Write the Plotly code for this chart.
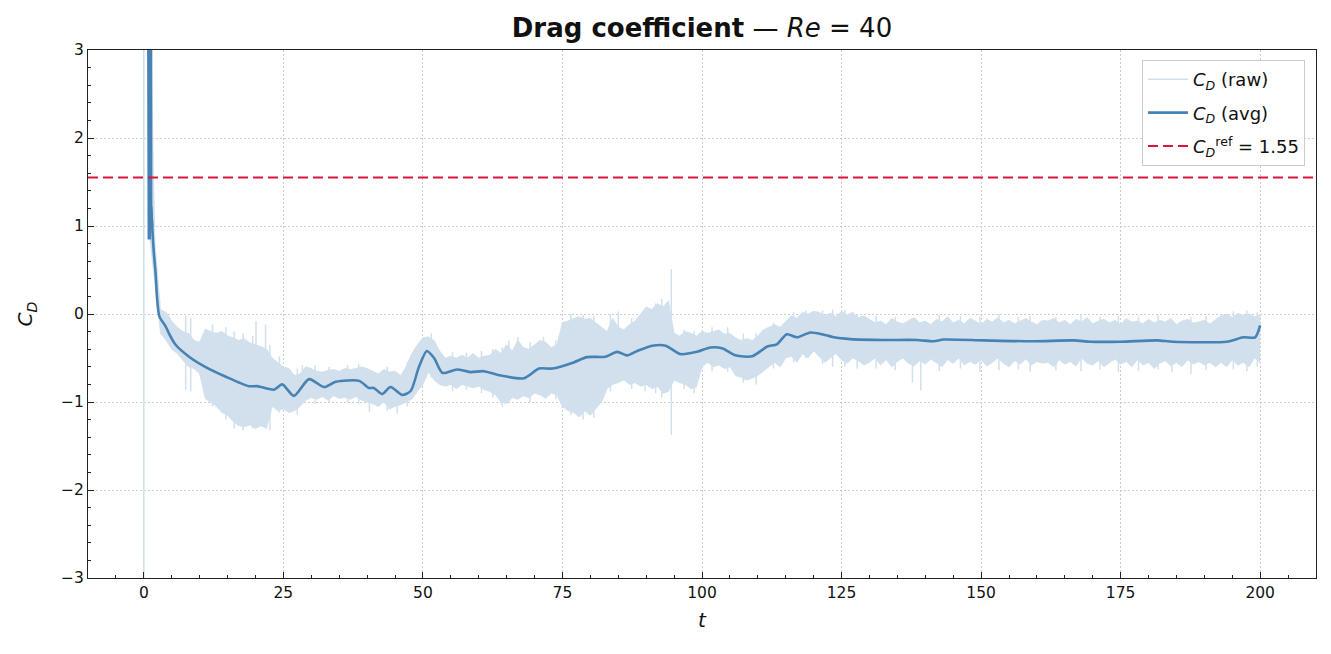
import plotly.graph_objects as go

# ---------------- data ----------------
band_t = list(range(1, 201))
raw_hi = [
    4.0, 0.8, 0.05, 0.02, -0.08, -0.15, -0.2, -0.22, -0.3, -0.32,
    -0.17, -0.2, -0.22, -0.2, -0.25, -0.27, -0.3, -0.28, -0.33, -0.35,
    -0.37, -0.4, -0.5, -0.55, -0.6, -0.62, -0.7, -0.68, -0.6, -0.62,
    -0.65, -0.66, -0.64, -0.63, -0.65, -0.62, -0.63, -0.62, -0.6, -0.62,
    -0.65, -0.68, -0.63, -0.66, -0.65, -0.7, -0.6, -0.45, -0.35, -0.27,
    -0.26, -0.3, -0.42, -0.5, -0.48, -0.5, -0.47, -0.5, -0.45, -0.5,
    -0.48, -0.47, -0.4, -0.45, -0.35, -0.42, -0.3, -0.38, -0.4, -0.35,
    -0.3, -0.32, -0.38, -0.35, -0.1, -0.08, -0.05, -0.03, -0.06, -0.05,
    -0.1, -0.15, -0.2, -0.05, -0.15, -0.18, -0.12, -0.08, 0.0, 0.08,
    0.05, 0.12, 0.08, 0.15, -0.22, -0.25, -0.2, -0.22, -0.25, -0.2,
    -0.22, -0.2, -0.18, -0.23, -0.22, -0.27, -0.3, -0.28, -0.3, -0.25,
    -0.18, -0.15, -0.12, -0.15, -0.08, -0.02, -0.05, 0.02, 0.0, 0.03,
    0.02, -0.02, 0.01, -0.03, 0.03, -0.01, 0.02, -0.04, -0.02,
    -0.06, -0.1, -0.08, -0.12, -0.05, -0.09, -0.11, -0.07, -0.04, -0.1,
    -0.08, -0.12, -0.06, -0.09, -0.03, -0.1, -0.07, -0.11, -0.05, -0.08,
    -0.12, -0.06, -0.09, -0.04, -0.1, -0.07, -0.11, -0.08, -0.05, -0.09,
    -0.12, -0.07,
    -0.08, -0.05, -0.1, -0.07, -0.12, -0.06, -0.09, -0.04, -0.11, -0.08,
    -0.06, -0.1, -0.07, -0.12, -0.05, -0.09, -0.08, -0.11, -0.06, -0.1,
    -0.07, -0.09, -0.05, -0.12, -0.08, -0.06, -0.1, -0.09, -0.07, -0.11,
    -0.06,
    -0.02, 0.0, -0.04, 0.01, -0.02, 0.0, -0.03, -0.01,
]
raw_lo = [
    0.9, 0.35, -0.22, -0.3, -0.4, -0.45, -0.52, -0.6, -0.62, -0.68,
    -0.96, -1.0, -1.05, -1.12, -1.15, -1.22, -1.27, -1.28, -1.26, -1.3,
    -1.27, -1.3, -1.05, -1.1, -1.08, -1.12, -1.1, -1.05, -0.98, -0.95,
    -0.97, -0.94, -0.98, -0.93, -0.96, -0.95, -0.97, -0.94, -0.98, -1.0,
    -1.02, -1.05, -1.0, -1.08, -1.05, -1.03, -1.0, -0.97, -0.88, -0.8,
    -0.66, -0.75, -0.8, -0.82, -0.8, -0.85, -0.8, -0.82, -0.84, -0.82,
    -0.86, -0.88, -0.92, -1.0, -1.02, -0.95, -0.97, -0.93, -0.95, -0.9,
    -0.92, -0.96, -0.9, -0.92, -1.05, -1.1, -1.12, -1.17, -1.1, -1.15,
    -1.08, -1.0, -0.85, -0.8, -0.78, -0.75, -0.8, -0.78, -0.82, -0.8,
    -0.85, -0.82, -0.9, -0.88, -0.75, -0.78, -0.8, -0.85, -0.83, -0.6,
    -0.55, -0.6, -0.58, -0.62, -0.6, -0.7, -0.72, -0.75, -0.73, -0.7,
    -0.65, -0.6, -0.55, -0.6, -0.5, -0.48, -0.55, -0.45, -0.5, -0.42,
    -0.48, -0.55, -0.5, -0.45, -0.52, -0.56, -0.5, -0.53, -0.58,
    -0.55, -0.5, -0.58, -0.52, -0.6, -0.54, -0.5, -0.56, -0.59, -0.53,
    -0.57, -0.51, -0.55, -0.6, -0.52, -0.56, -0.5, -0.58, -0.54, -0.57,
    -0.52, -0.59, -0.55, -0.5, -0.56, -0.6, -0.53, -0.57, -0.51, -0.58,
    -0.54, -0.56,
    -0.55, -0.6, -0.52, -0.57, -0.54, -0.59, -0.5, -0.56, -0.58, -0.53,
    -0.6, -0.55, -0.51, -0.57, -0.54, -0.6, -0.52, -0.58, -0.55, -0.62,
    -0.56, -0.53, -0.59, -0.55, -0.6, -0.52, -0.57, -0.54, -0.58, -0.55,
    -0.6,
    -0.55, -0.6, -0.52, -0.58, -0.55, -0.6, -0.5, -0.55,
]

# thin raw excursions (spikes / hairy edges): time, top, bottom
spike_t = [0.0, 7.5, 8.4, 20.1, 21.8, 28.4, 40.4, 45.4, 65.4, 67.0, 71.6, 85.0, 94.5, 137.7, 139.2, 184.2,
           12.3, 14.7, 16.2, 17.8, 19.5, 22.6, 24.3, 27.5, 30.7, 33.2, 36.5, 38.5, 43.6, 47.2,
           51.5, 55.3, 57.8, 60.5, 62.5, 64.2, 69.2, 73.8, 76.5, 78.7, 80.6, 83.6, 87.4, 89.8,
           91.7, 92.8, 96.8, 98.6, 101.8, 104.6, 107.4, 109.7, 112.8, 116.4, 118.6, 121.6, 123.4,
           125.6, 127.8, 131.2, 134.6, 142.5, 146.3, 149.8, 153.2, 156.7, 158.8, 163.4, 167.9,
           171.3, 174.6, 178.2, 181.7, 187.6, 190.3, 195.2, 197.6, 199.5]
spike_hi = [6.0, -0.02, -0.05, -0.08, -0.12, -0.58, -0.7, -0.75, -0.30, -0.26, -0.26, 0.03, 0.51, -0.3, -0.3, -0.3,
            -0.12, -0.15, -0.2, -0.22, -0.25, -0.35, -0.48, -0.62, -0.58, -0.6, -0.58, -0.57, -0.6, -0.55,
            -0.22, -0.43, -0.44, -0.42, -0.4, -0.38, -0.32, -0.3, 0.0, -0.01, -0.02, 0.0, -0.05, 0.05,
            0.12, 0.18, -0.18, -0.2, -0.15, -0.15, -0.22, -0.22, -0.1, 0.02, 0.04, 0.04, 0.05,
            0.05, 0.0, -0.02, -0.03, -0.01, -0.02, -0.03, 0.0, -0.03, -0.02, -0.03, 0.0,
            -0.03, -0.02, -0.03, -0.01, -0.03, -0.02, 0.03, 0.04, 0.02]
spike_lo = [-6.0, -0.86, -0.88, -0.9, -0.95, -1.0, -1.11, -1.13, -0.7, -0.7, -0.7, -0.5, -1.375, -0.78, -0.87, -0.66,
            -1.05, -1.2, -1.3, -1.32, -1.3, -1.32, -1.12, -1.15, -1.02, -1.0, -1.0, -1.02, -1.1, -1.05,
            -0.72, -0.88, -0.86, -0.9, -0.95, -1.05, -1.0, -0.97, -1.15, -1.2, -1.18, -0.88, -0.85, -0.88,
            -0.9, -0.95, -0.85, -0.9, -0.65, -0.66, -0.78, -0.8, -0.62, -0.55, -0.5, -0.57, -0.6,
            -0.6, -0.62, -0.62, -0.64, -0.65, -0.62, -0.66, -0.64, -0.63, -0.66, -0.64, -0.65,
            -0.63, -0.66, -0.65, -0.63, -0.68, -0.64, -0.63, -0.65, -0.6]

avg_t = [0.6, 0.9, 1.05, 1.25, 1.3, 1.5, 1.8, 2.1, 2.4, 2.8, 3.9, 4.5, 5.7, 8.1, 11.0, 14.6, 18.8,
         20.3, 23.3, 24.8, 26.9, 29.6, 32.3, 34.4, 38.6, 40.3, 41.2, 42.7, 44.2, 46.3, 47.8,
         49.3, 50.7, 52.0, 53.5, 56.1, 58.5, 60.9, 63.3, 68.1, 70.8, 73.2, 77.0, 79.4, 82.7,
         84.8, 86.6, 88.4, 91.1, 93.5, 96.1, 99.1, 101.5, 103.6, 106.0, 109.0, 111.7, 113.4,
         115.2, 117.0, 119.4, 121.5, 123.6, 126.6, 132.6, 138.5, 141.5, 143.3, 150.5, 159.4,
         166.6, 169.6, 175.0, 181.5, 184.4, 194.0, 197.0, 199.1, 200.0]
avg_v = [9.0, 0.86, 0.86, 9.0, 1.22, 0.99, 0.69, 0.47, 0.16, -0.03, -0.14, -0.22, -0.35, -0.485, -0.6, -0.71, -0.82,
         -0.82, -0.86, -0.80, -0.93, -0.74, -0.83, -0.77, -0.76, -0.84, -0.84, -0.91, -0.83, -0.92, -0.875,
         -0.60, -0.42, -0.50, -0.67, -0.63, -0.66, -0.65, -0.69, -0.73, -0.62, -0.62, -0.55, -0.49, -0.485,
         -0.43, -0.47, -0.42, -0.36, -0.36, -0.455, -0.43, -0.38, -0.39, -0.47, -0.48, -0.37, -0.345,
         -0.23, -0.265, -0.21, -0.23, -0.265, -0.285, -0.295, -0.295, -0.31, -0.29, -0.30, -0.31,
         -0.30, -0.315, -0.315, -0.30, -0.315, -0.315, -0.265, -0.265, -0.13]

cd_ref = 1.55
x_range = [-10, 210]
y_range = [-3, 3]
x_ticks = [0, 25, 50, 75, 100, 125, 150, 175, 200]
y_ticks = [-3, -2, -1, 0, 1, 2, 3]

assert len(raw_hi) == len(band_t) == len(raw_lo)
assert len(spike_t) == len(spike_hi) == len(spike_lo)
assert len(avg_t) == len(avg_v)

# ---------------- figure ----------------
RAW = "rgb(209,224,236)"
AVG = "#4682b4"
REF = "#dc143c"
CD = "<i>C</i><sub><i>D</i></sub>"
SPLIT = 5  # start-up transient drawn straight, the rest smoothed

fig = go.Figure()

fig.add_trace(go.Scatter(x=band_t, y=raw_lo, mode="lines", line=dict(width=0.8, color=RAW),
                         showlegend=False, legendgroup="raw", hoverinfo="skip"))
fig.add_trace(go.Scatter(x=band_t, y=raw_hi, mode="lines", line=dict(width=0.8, color=RAW),
                         fill="tonexty", fillcolor=RAW, showlegend=False, legendgroup="raw",
                         hoverinfo="skip"))

sx, sy = [], []
for t, h, l in zip(spike_t, spike_hi, spike_lo):
    sx += [t, t, None]
    sy += [h, l, None]
fig.add_trace(go.Scatter(x=sx, y=sy, mode="lines", line=dict(width=1.5, color=RAW),
                         name=CD + " (raw)", legendgroup="raw"))

fig.add_trace(go.Scatter(x=avg_t[:SPLIT + 1], y=avg_v[:SPLIT + 1], mode="lines",
                         line=dict(width=2.6, color=AVG), showlegend=False, legendgroup="avg"))
fig.add_trace(go.Scatter(x=avg_t[SPLIT - 1:], y=avg_v[SPLIT - 1:], mode="lines",
                         line=dict(width=2.6, color=AVG, shape="spline", smoothing=0.7),
                         name=CD + " (avg)", legendgroup="avg"))

fig.add_trace(go.Scatter(x=x_range, y=[cd_ref, cd_ref], mode="lines",
                         line=dict(width=2, color=REF, dash="10px,5px"),
                         name="<i>C</i><sub><i>D</i></sub><sup>ref</sup> = 1.55", legendgroup="ref"))

axis_common = dict(
    showline=True, linecolor="#222", linewidth=1.2, mirror=True,
    ticks="inside", ticklen=6, tickwidth=1.1, tickcolor="#222",
    showgrid=True, gridcolor="#cccccc", griddash="1.5px,2.5px", gridwidth=1,
    zeroline=False, tickfont=dict(size=15.5, color="#111"),
)

fig.update_xaxes(range=x_range, tickvals=x_ticks,
                 minor=dict(ticks="inside", dtick=5, tick0=0, ticklen=3, tickwidth=1, tickcolor="#222",
                            showgrid=False),
                 title=dict(text="<i>t</i>", font=dict(size=20, color="#111"), standoff=12),
                 **axis_common)
fig.update_yaxes(range=y_range, tickvals=y_ticks,
                 minor=dict(ticks="inside", dtick=0.2, tick0=0, ticklen=3, tickwidth=1, tickcolor="#222",
                            showgrid=False),
                 title=dict(text=CD, font=dict(size=20, color="#111"), standoff=22),
                 **axis_common)

fig.update_layout(
    width=1331, height=654,
    margin=dict(l=88, r=15, t=50, b=76),
    paper_bgcolor="white", plot_bgcolor="white",
    font=dict(family="DejaVu Sans", color="#111"),
    title=dict(text="<b>Drag coefficient</b> — <i>Re</i> = 40", x=0.5, xref="paper",
               y=1 - 28 / 654, yref="container", yanchor="middle", xanchor="center",
               font=dict(size=26, color="#111")),
    legend=dict(x=0.991, y=0.981, xanchor="right", yanchor="top",
                bgcolor="rgba(255,255,255,0.85)", bordercolor="#cccccc", borderwidth=1,
                font=dict(size=18, color="#111"), tracegroupgap=7, itemwidth=40),
    showlegend=True,
)

fig.write_html("out.html")
